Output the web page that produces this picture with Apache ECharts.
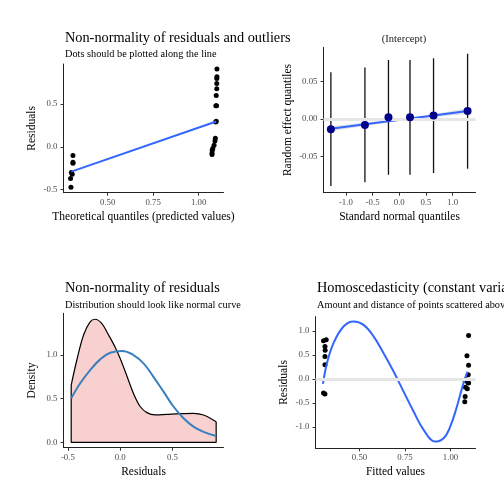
<!DOCTYPE html>
<html><head><meta charset="utf-8">
<script src="https://cdn.jsdelivr.net/npm/echarts@6/dist/echarts.min.js"></script>
<style>html,body{margin:0;padding:0;background:#fff}#c{width:504px;height:504px}</style>
</head><body><div id="c"></div>
<script>
// Panel 1: QQ plot of residuals
const p1X = [0.309,0.309,0.309,0.300,0.305,0.296,0.298, 1.101,1.101,1.100,1.100,1.100,1.097,1.099,1.095,1.097,1.094,1.092,1.090,1.085,1.078,1.075,1.074,1.074];
const p1Y = [-0.10,-0.18,-0.19,-0.30,-0.32,-0.37,-0.47, 0.91,0.82,0.80,0.74,0.68,0.60,0.48,0.48,0.30,0.29,0.10,0.07,0.02,-0.02,-0.04,-0.07,-0.09];
const p1LineX = [0.300, 1.097];
const p1LineY = [-0.289, 0.296];
const p1XTicks = [0.50, 0.75, 1.00];
const p1YTicks = [-0.5, 0.0, 0.5];

// Panel 2: random effects QQ
const p2X = [-1.2816,-0.6433,-0.2019,0.2019,0.6433,1.2816];
const p2Y = [-0.0137,-0.0080,0.0023,0.0023,0.0045,0.0107];
const p2Lo = [-0.0893,-0.0845,-0.0743,-0.0743,-0.0720,-0.0663];
const p2Hi = [0.0623,0.0685,0.0787,0.0787,0.0810,0.0870];
const p2FitY = [-0.0130,-0.0071,-0.0031,0.0006,0.0046,0.0105];
const p2BandLo = [-0.0165,-0.0092,-0.0045,-0.0009,0.0024,0.0068];
const p2BandHi = [-0.0095,-0.0050,-0.0017,0.0021,0.0068,0.0142];
const p2XTicks = [-1.0,-0.5,0.0,0.5,1.0];
const p2YTicks = [-0.05,0.00,0.05];

// Panel 3: density of residuals
const p3DensX = [-0.468,-0.414,-0.35,-0.287,-0.239,-0.175,-0.111,-0.048,0.0,0.064,0.127,0.191,0.255,0.334,0.446,0.573,0.70,0.796,0.917];
const p3DensY = [0.656,0.943,1.23,1.38,1.41,1.36,1.23,1.09,0.96,0.76,0.56,0.41,0.34,0.313,0.32,0.328,0.332,0.313,0.236];
const p3NormX = [-0.468,-0.382,-0.287,-0.191,-0.096,0.02,0.127,0.223,0.318,0.414,0.509,0.605,0.70,0.796,0.917];
const p3NormY = [0.504,0.676,0.828,0.95,1.026,1.047,1.0,0.905,0.75,0.58,0.41,0.275,0.18,0.12,0.072];
const p3XTicks = [-0.5,0.0,0.5];
const p3YTicks = [0.0,0.5,1.0];

// Panel 4: homoscedasticity
const p4X = [0.302,0.317,0.310,0.311,0.310,0.310,0.302,0.310, 1.099,1.090,1.099,1.097,1.085,1.080,1.095,1.099,1.082,1.092,1.080,1.078];
const p4Y = [0.80,0.82,0.68,0.60,0.47,0.30,-0.29,-0.31, 0.91,0.485,0.29,0.09,-0.015,-0.03,-0.07,-0.08,-0.17,-0.20,-0.36,-0.47];
const p4CurveX = [0.299,0.321,0.357,0.412,0.467,0.522,0.577,0.632,0.687,0.742,0.797,0.852,0.916,0.962,0.998,1.035,1.071,1.093];
const p4CurveY = [-0.098,0.333,0.75,1.096,1.20,1.13,0.89,0.54,0.16,-0.26,-0.675,-1.056,-1.30,-1.23,-0.99,-0.57,-0.083,0.158];
const p4XTicks = [0.50,0.75,1.00];
const p4YTicks = [-1.0,-0.5,0.0,0.5,1.0];

const FONT = 'Liberation Serif';
const zip = (a,b) => a.map((v,i)=>[v,b[i]]);

function xAx(gi, min, max, ticks, dec, name, gap) {
  return {type:'value', gridIndex:gi, min, max, splitLine:{show:false},
    axisLine:{show:true, onZero:false, lineStyle:{color:'#222', width:1}},
    axisTick:{show:true, length:3, customValues:ticks, lineStyle:{color:'#333'}},
    axisLabel:{customValues:ticks, formatter:v=>v.toFixed(dec), color:'#4d4d4d', fontSize:8.8, fontFamily:FONT, margin:5},
    name, nameLocation:'middle', nameGap:gap, nameTextStyle:{fontSize:11.5, color:'#000', fontFamily:FONT}};
}
function yAx(gi, min, max, ticks, dec, name, gap) {
  return {type:'value', gridIndex:gi, min, max, splitLine:{show:false},
    axisLine:{show:true, onZero:false, lineStyle:{color:'#222', width:1}},
    axisTick:{show:true, length:3, customValues:ticks, lineStyle:{color:'#333'}},
    axisLabel:{customValues:ticks, formatter:v=>v.toFixed(dec), color:'#4d4d4d', fontSize:8.8, fontFamily:FONT, margin:6},
    name, nameLocation:'middle', nameGap:gap, nameRotate:90, nameTextStyle:{fontSize:11.5, color:'#000', fontFamily:FONT}};
}

function polyItem(xs, ys) {
  return function(params, api) {
    if (params.dataIndex !== 0) return null;
    return {type:'polygon', shape:{points: xs.map((x,i)=>api.coord([x, ys[i]]))},
      style:{fill:'rgba(170,170,170,0.35)', stroke:'none'}};
  };
}

const chart = echarts.init(document.getElementById('c'), null, {renderer:'canvas'});
const ttl = (text, left, top, size) => ({text, left, top, textStyle:{fontSize:size, fontWeight:'normal', color:'#000', fontFamily:FONT}});

const bandXs = p2X.concat(p2X.slice().reverse());
const bandYs = p2BandLo.concat(p2BandHi.slice().reverse());

chart.setOption({
  animation:false,
  textStyle:{fontFamily:FONT},
  title:[
    ttl('Non-normality of residuals and outliers', 60, 26, 14.3),
    ttl('Dots should be plotted along the line', 60, 44, 10.3),
    {text:'(Intercept)', left:399, top:29, textAlign:'center', textStyle:{fontSize:10.5, fontWeight:'normal', color:'#1a1a1a', fontFamily:FONT}},
    ttl('Non-normality of residuals', 60, 276, 14.3),
    ttl('Distribution should look like normal curve', 60, 295, 10.3),
    ttl('Homoscedasticity (constant variance)', 312, 276, 14.3),
    ttl('Amount and distance of points scattered above/below line', 312, 295, 10.3)
  ],
  grid:[
    {left:63.5, top:64, width:160, height:128.7},
    {left:323.5, top:47.3, width:152, height:145.4},
    {left:63.5, top:313.3, width:160, height:134.4},
    {left:315.5, top:316.7, width:160, height:131.6}
  ],
  xAxis:[
    xAx(0, 0.257, 1.137, p1XTicks, 2, 'Theoretical quantiles (predicted values)', 18),
    xAx(1, -1.42, 1.43, p2XTicks, 1, 'Standard normal quantiles', 18),
    xAx(2, -0.5416, 0.987, p3XTicks, 1, 'Residuals', 18),
    xAx(3, 0.258, 1.137, p4XTicks, 2, 'Fitted values', 18)
  ],
  yAxis:[
    yAx(0, -0.535, 0.968, p1YTicks, 1, 'Residuals', 26),
    yAx(1, -0.0983, 0.0956, p2YTicks, 2, 'Random effect quantiles', 30),
    yAx(2, -0.062, 1.478, p3YTicks, 1, 'Density', 26),
    yAx(3, -1.44, 1.30, p4YTicks, 1, 'Residuals', 26)
  ],
  series:[
    // Panel 1
    {type:'scatter', xAxisIndex:0, yAxisIndex:0, data:zip(p1X,p1Y), symbolSize:5, itemStyle:{color:'#000', opacity:1}},
    {type:'line', xAxisIndex:0, yAxisIndex:0, data:zip(p1LineX,p1LineY), symbol:'none', lineStyle:{color:'#3366FF', width:2}},
    // Panel 2
    {type:'line', xAxisIndex:1, yAxisIndex:1, data:[], symbol:'none', z:1,
      markLine:{silent:true, symbol:'none', label:{show:false}, lineStyle:{color:'#e6e6e6', width:3, type:'solid'}, data:[{yAxis:0}]}},
    {type:'custom', xAxisIndex:1, yAxisIndex:1, data:zip(bandXs,bandYs), renderItem:polyItem(bandXs,bandYs), silent:true},
    {type:'custom', xAxisIndex:1, yAxisIndex:1, data:p2X.map((x,i)=>[x,p2Lo[i],p2Hi[i]]), encode:{x:0, y:[1,2]},
      renderItem:(params, api)=>{
        const a = api.coord([api.value(0), api.value(1)]);
        const b = api.coord([api.value(0), api.value(2)]);
        return {type:'line', shape:{x1:a[0], y1:a[1], x2:b[0], y2:b[1]}, style:{stroke:'#111', lineWidth:1.3}};
      }},
    {type:'line', xAxisIndex:1, yAxisIndex:1, data:zip(p2X,p2FitY), symbol:'none', lineStyle:{color:'#3366FF', width:2}},
    {type:'scatter', xAxisIndex:1, yAxisIndex:1, data:zip(p2X,p2Y), symbolSize:8, itemStyle:{color:'#00008B', opacity:1}, z:5},
    // Panel 3
    {type:'line', xAxisIndex:2, yAxisIndex:2, data:zip(p3DensX,p3DensY), symbol:'none', smooth:0.35,
      lineStyle:{color:'#000', width:1.2}, areaStyle:{color:'#f7d0cf', opacity:1}},
    {type:'line', xAxisIndex:2, yAxisIndex:2,
      data:[[p3DensX[0],p3DensY[0]],[p3DensX[0],0],[p3DensX[p3DensX.length-1],0],[p3DensX[p3DensX.length-1],p3DensY[p3DensY.length-1]]],
      symbol:'none', lineStyle:{color:'#000', width:1.2}},
    {type:'line', xAxisIndex:2, yAxisIndex:2, data:zip(p3NormX,p3NormY), symbol:'none', smooth:0.4, lineStyle:{color:'#3a80c0', width:2}},
    // Panel 4
    {type:'line', xAxisIndex:3, yAxisIndex:3, data:[], symbol:'none', z:1,
      markLine:{silent:true, symbol:'none', label:{show:false}, lineStyle:{color:'#e6e6e6', width:3, type:'solid'}, data:[{yAxis:0}]}},
    {type:'scatter', xAxisIndex:3, yAxisIndex:3, data:zip(p4X,p4Y), symbolSize:5, itemStyle:{color:'#000', opacity:1}},
    {type:'line', xAxisIndex:3, yAxisIndex:3, data:zip(p4CurveX,p4CurveY), symbol:'none', smooth:0.4, lineStyle:{color:'#3366FF', width:2}}
  ]
});
</script></body></html>
